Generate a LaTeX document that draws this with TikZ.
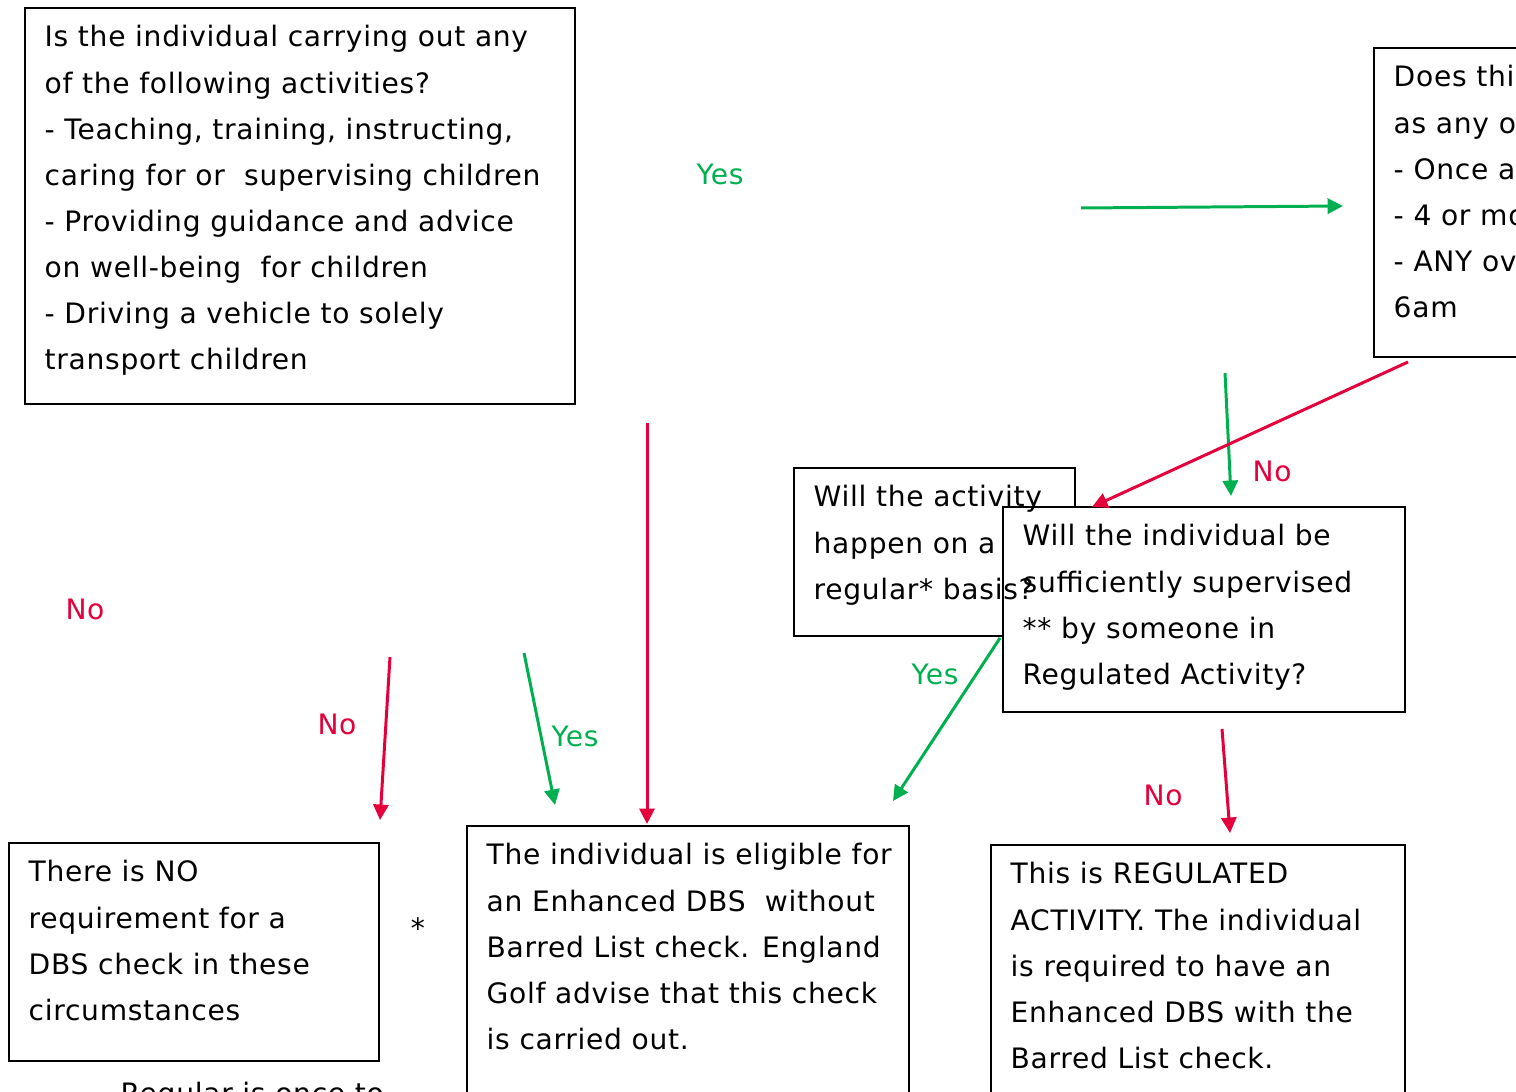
\documentclass[tikz,border=0pt]{standalone}
\usepackage{fontspec}
\setmainfont[LetterSpace=2.5]{DejaVu Sans}
\usetikzlibrary{arrows.meta}
\definecolor{gruen}{HTML}{00B050}
\definecolor{rot}{HTML}{E4003A}
\tikzset{
  ja/.style={-{Triangle[length=4.4pt,width=4.3pt]},gruen,line width=0.85pt},
  nein/.style={-{Triangle[length=4.4pt,width=4.3pt]},rot,line width=0.85pt},
  kasten/.style={draw=black,line width=0.6pt,inner sep=0pt,anchor=north west},
  txt/.style={anchor=north west,inner sep=0pt,align=left,font=\fontsize{8pt}{13.1pt}\selectfont},
  lab/.style={inner sep=0pt,font=\fontsize{8pt}{13.1pt}\selectfont},
}
\begin{document}
\begin{tikzpicture}[x=0.01cm,y=-0.01cm]
  \useasboundingbox (0,0) rectangle (1516,1092);
  \clip (0,0) rectangle (1516,1092);
  % Kaesten
  \node[kasten,minimum width=5.5cm,minimum height=3.96cm] (akt) at (24,7) {};
  \node[txt] (akttxt) at (44,14) {\strut Is the individual carrying out any\\
    of the following activities?\\
    - Teaching, training, instructing,\\
    caring for or\ \ supervising children\\
    - Providing guidance and advice\\
    on well-being\ \ for children\\
    - Driving a vehicle to solely\\
    transport children};
  \node[kasten,minimum width=1.67cm,minimum height=3.09cm] (oft) at (1373,47) {};
  \node[txt] (ofttxt) at (1393,54) {\strut Does this\\
    as any of\\
    - Once a\\
    - 4 or mo\\
    - ANY ov\\
    6am};
  \node[kasten,minimum width=2.81cm,minimum height=1.68cm] (reg) at (793,467) {};
  \node[kasten,fill=white,minimum width=4.02cm,minimum height=2.05cm] (aufs) at (1002,506) {};
  \node[txt] (regtxt) at (813,474) {\strut Will the activity\\
    happen on a\\
    regular* basis?};
  \node[txt] (aufstxt) at (1022,513) {\strut Will the individual be\\
    sufficiently supervised\\
    ** by someone in\\
    Regulated Activity?};
  \node[kasten,minimum width=4.42cm,minimum height=3.05cm] (enh) at (466,825) {};
  \node[txt] (enhtxt) at (486,832) {\strut The individual is eligible for\\
    an Enhanced DBS\ \ without\\
    Barred List check. England\\
    Golf advise that this check\\
    is carried out.};
  \node[kasten,minimum width=4.14cm,minimum height=2.86cm] (ra) at (990,844) {};
  \node[txt] (ratxt) at (1010,851) {\strut This is REGULATED\\
    ACTIVITY. The individual\\
    is required to have an\\
    Enhanced DBS with the\\
    Barred List check.};
  \node[kasten,minimum width=3.70cm,minimum height=2.18cm] (kein) at (8,842) {};
  \node[txt] (keintxt) at (28,849) {\strut There is NO\\
    requirement for a\\
    DBS check in these\\
    circumstances};
  \node[lab] (stern) at (418,928) {*};
  \node[lab,anchor=base west] (fuss) at (120,1103) {Regular is once to};
  % Pfeile
  \coordinate (p1a) at (1081,208); \coordinate (p1b) at (1343,206);
  \coordinate (p2a) at (647,423);  \coordinate (p2b) at (647,824);
  \coordinate (p3a) at (1408,362); \coordinate (p3b) at (1092,507);
  \coordinate (p4a) at (1225,373); \coordinate (p4b) at (1231,496);
  \coordinate (p5a) at (1000,638); \coordinate (p5b) at (893,801);
  \coordinate (p6a) at (1222,729); \coordinate (p6b) at (1230,833);
  \coordinate (p7a) at (390,657);  \coordinate (p7b) at (380,820);
  \coordinate (p8a) at (524,653);  \coordinate (p8b) at (555,805);
  \draw[ja] (p1a) -- (p1b);
  \draw[nein] (p2a) -- (p2b);
  \draw[ja] (p4a) -- (p4b);
  \draw[nein] (p3a) -- (p3b);
  \draw[ja] (p5a) -- (p5b);
  \draw[nein] (p6a) -- (p6b);
  \draw[nein] (p7a) -- (p7b);
  \draw[ja] (p8a) -- (p8b);
  % Beschriftungen
  \node[lab,gruen] (ja1) at (720,174) {Yes};
  \node[lab,rot] (nein1) at (1272,471) {No};
  \node[lab,gruen] (ja2) at (935,674) {Yes};
  \node[lab,rot] (nein2) at (1163,795) {No};
  \node[lab,rot] (nein3) at (85,609) {No};
  \node[lab,rot] (nein4) at (337,724) {No};
  \node[lab,gruen] (ja3) at (575,736) {Yes};
\end{tikzpicture}
\end{document}
